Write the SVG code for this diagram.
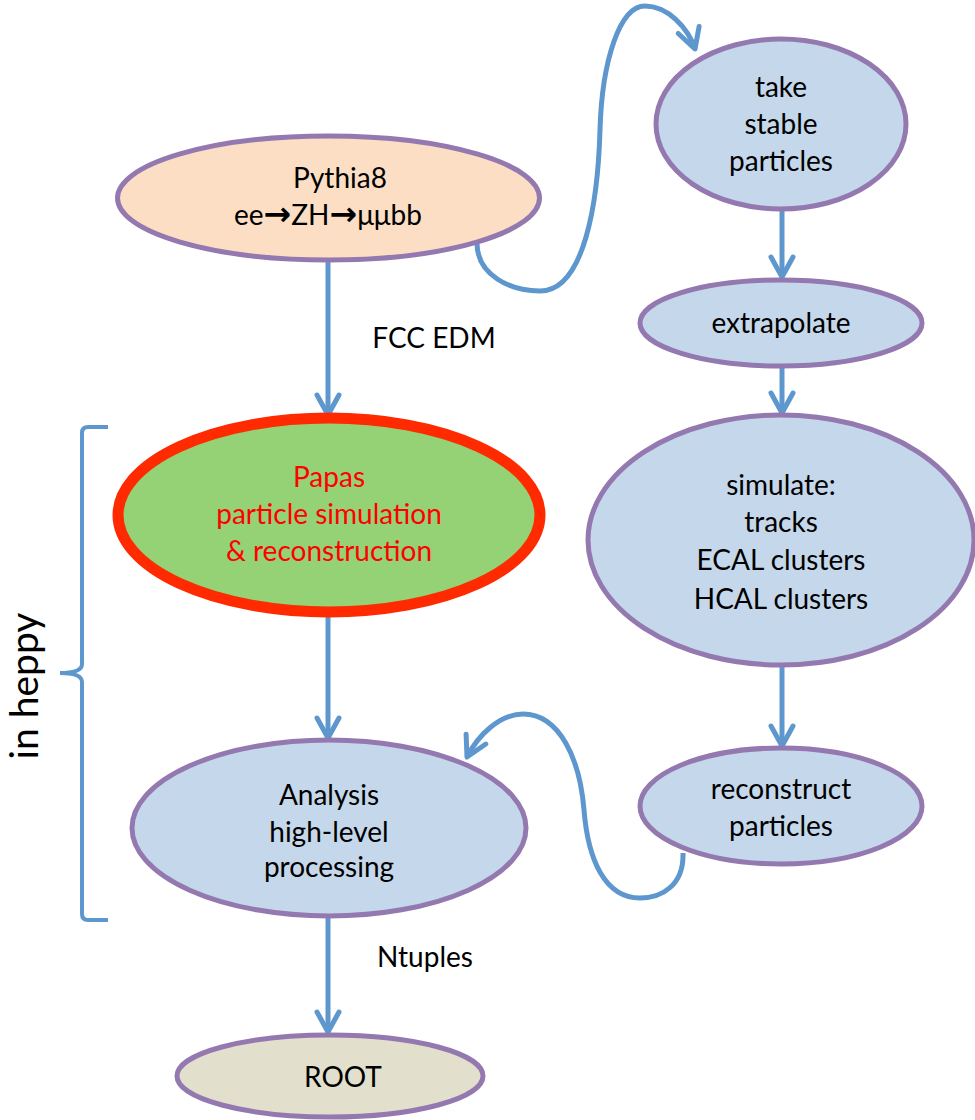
<svg xmlns="http://www.w3.org/2000/svg" width="975" height="1120" viewBox="0 0 975 1120">
<style>
text{font-family:Lato,"Liberation Sans",sans-serif;font-size:28px;fill:#000;text-anchor:middle}
.node{stroke:#9479B0;stroke-width:5}
.blue{fill:#C5D7EA}
.conn{fill:none;stroke:#5E97CE;stroke-width:5}
.arw{font-family:"DejaVu Sans",sans-serif;font-weight:bold;font-size:33px}
</style>
<defs>
<marker id="arr" markerUnits="userSpaceOnUse" orient="auto" refX="0" refY="0" markerWidth="40" markerHeight="40" viewBox="-30 -20 40 40" overflow="visible">
<path d="M-20,-11 L0,0 L-20,11" fill="none" stroke="#5E97CE" stroke-width="5" stroke-linecap="round" stroke-linejoin="round"/>
</marker>
</defs>
<rect width="975" height="1120" fill="#fff"/>
<g id="connectors">
<path class="conn" d="M328,262 V415" marker-end="url(#arr)"/>
<path class="conn" d="M328,612 V738" marker-end="url(#arr)"/>
<path class="conn" d="M328,916 V1032" marker-end="url(#arr)"/>
<path class="conn" d="M782,210 V277" marker-end="url(#arr)"/>
<path class="conn" d="M782,366 V413" marker-end="url(#arr)"/>
<path class="conn" d="M782,666 V746" marker-end="url(#arr)"/>
<path class="conn" d="M477,243 C477,275 510,291 540,291 C585,291 598,200 600,130 C602,60 620,6 645,6 C668,6 688,28 695,49" marker-end="url(#arr)"/>
<path class="conn" d="M683,853 C684,885 662,898 640,898 C605,898 588,860 584,810 C580,760 560,714 523,714 C500,714 478,735 467,757" marker-end="url(#arr)"/>
</g>
<g id="pythia">
<ellipse class="node" cx="328.5" cy="198" rx="211" ry="62" fill="#FBDEC4"/>
<text x="340" y="188">Pythia8</text>
<text x="328" y="225">ee<tspan class="arw">→</tspan>ZH<tspan class="arw">→</tspan>μμbb</text>
</g>
<g id="papas">
<ellipse cx="329" cy="515" rx="211" ry="97" fill="#95D175" stroke="#FF2A00" stroke-width="11"/>
<text x="329" y="487" style="fill:#FF0000">Papas</text>
<text x="329" y="524" style="fill:#FF0000">particle simulation</text>
<text x="329" y="561" style="fill:#FF0000">&amp; reconstruction</text>
</g>
<g id="analysis">
<ellipse class="node blue" cx="329" cy="828" rx="197" ry="88"/>
<text x="329" y="805">Analysis</text>
<text x="329" y="842">high-level</text>
<text x="329" y="877">processing</text>
</g>
<g id="root">
<ellipse class="node" cx="330" cy="1076" rx="153" ry="41" fill="#E2DFCC"/>
<text x="343" y="1087">ROOT</text>
</g>
<g id="take">
<ellipse class="node blue" cx="781" cy="124" rx="125" ry="85"/>
<text x="781" y="97">take</text>
<text x="781" y="134">stable</text>
<text x="781" y="171">particles</text>
</g>
<g id="extrapolate">
<ellipse class="node blue" cx="781" cy="323" rx="141" ry="43"/>
<text x="781" y="333">extrapolate</text>
</g>
<g id="simulate">
<ellipse class="node blue" cx="781" cy="540" rx="193" ry="125"/>
<text x="781" y="495">simulate:</text>
<text x="781" y="532">tracks</text>
<text x="781" y="570">ECAL clusters</text>
<text x="781" y="609">HCAL clusters</text>
</g>
<g id="reconstruct">
<ellipse class="node blue" cx="781" cy="806" rx="141" ry="58"/>
<text x="781" y="799">reconstruct</text>
<text x="781" y="836">particles</text>
</g>
<g id="labels">
<text x="434" y="348">FCC EDM</text>
<text x="425" y="967">Ntuples</text>
<path d="M108,427 L88,427 Q82,427 82,433 L82,664 Q82,673 60,673 Q82,673 82,682 L82,914 Q82,920 88,920 L108,920" fill="none" stroke="#5E97CE" stroke-width="4"/>
<text transform="translate(38,686) rotate(-90)" style="font-size:39px">in heppy</text>
</g>
</svg>
